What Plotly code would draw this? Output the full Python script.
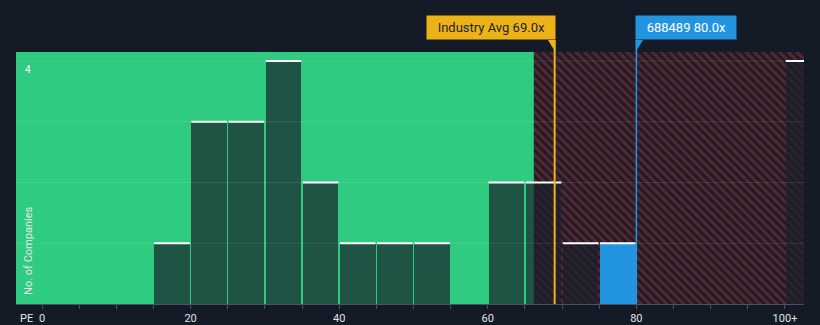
import plotly.graph_objects as go

# ---- data ----
bin_starts = [15, 20, 25, 30, 35, 40, 45, 50, 60, 65, 70, 75, 100]
counts = [1, 3, 3, 4, 2, 1, 1, 1, 2, 2, 1, 1, 4]
highlight_bin = 75          # bin containing the company
BIN_WIDTH = 5
industry_avg = 69.0
company_pe = 80.0
company_code = "688489"
x_tickvals = [0, 20, 40, 60, 80, 100]
x_ticktext = ["0", "20", "40", "60", "80", "100+"]
grid_levels = [1, 2, 3, 4]

# ---- styling / layout constants ----
X_MIN, X_MAX = -3.5, 102.56
Y_MAX = 4.148
RED_ZONE_START = 66.2
BG = "#151b26"
GREEN = "#2ecb80"
YELLOW = "#ebb317"
BLUE = "#2394df"
BOX_Y = 1.048
PAD = "\u2002"

fig = go.Figure()

# hatched red zone (background)
fig.add_trace(go.Bar(
    x=[(RED_ZONE_START + X_MAX) / 2], y=[Y_MAX], width=[X_MAX - RED_ZONE_START], base=0,
    marker=dict(color="#1a1c27", line=dict(width=0),
                pattern=dict(shape="\\", fgcolor="#93313a", bgcolor="#1a1c27", size=6, solidity=0.5)),
    hoverinfo="skip", showlegend=False))

centers = [s + BIN_WIDTH / 2 for s in bin_starts]
colors = [BLUE if s == highlight_bin else "rgba(26,31,43,0.70)" for s in bin_starts]
fig.add_trace(go.Bar(
    x=centers, y=counts, width=[BIN_WIDTH - 0.2] * len(counts),
    marker=dict(color=colors, line=dict(width=0)), showlegend=False))

# gridlines on top (faint)
gx, gy = [], []
for g in grid_levels:
    gx += [X_MIN, X_MAX, None]
    gy += [g, g, None]
fig.add_trace(go.Scatter(x=gx, y=gy, mode="lines",
                         line=dict(color="rgba(255,255,255,0.10)", width=1),
                         hoverinfo="skip", showlegend=False))

# white top caps on bars
tx, ty = [], []
for c, v in zip(centers, counts):
    tx += [c - (BIN_WIDTH - 0.2) / 2, c + (BIN_WIDTH - 0.2) / 2, None]
    ty += [v, v, None]
fig.add_trace(go.Scatter(x=tx, y=ty, mode="lines",
                         line=dict(color="white", width=2),
                         hoverinfo="skip", showlegend=False))

shapes = [
    dict(type="rect", xref="x", yref="paper", x0=X_MIN, x1=RED_ZONE_START, y0=0, y1=1,
         fillcolor=GREEN, line=dict(width=0), layer="below"),
    dict(type="line", xref="x", yref="paper", x0=industry_avg, x1=industry_avg, y0=0, y1=BOX_Y,
         line=dict(color=YELLOW, width=2), layer="above"),
    dict(type="line", xref="x", yref="paper", x0=company_pe, x1=company_pe, y0=0, y1=BOX_Y,
         line=dict(color=BLUE, width=1.5), layer="above"),
    dict(type="path", xref="x", yref="paper",
         path=f"M {industry_avg - 0.9},{BOX_Y} L {industry_avg + 0.1},{BOX_Y} L {industry_avg + 0.1},{1.0} Z",
         fillcolor=YELLOW, line=dict(width=0), layer="above"),
    dict(type="path", xref="x", yref="paper",
         path=f"M {company_pe - 0.1},{BOX_Y} L {company_pe + 0.9},{BOX_Y} L {company_pe - 0.1},{1.0} Z",
         fillcolor=BLUE, line=dict(width=0), layer="above"),
]

annotations = [
    dict(text=f"{PAD}Industry Avg {industry_avg:.1f}x{PAD}", xref="x", yref="paper", x=industry_avg, y=BOX_Y,
         xanchor="right", yanchor="bottom", xshift=1, showarrow=False,
         bgcolor=YELLOW, borderpad=4, font=dict(family="Roboto", size=13, color="#1b1f2a")),
    dict(text=f"{PAD}{company_code} {company_pe:.1f}x{PAD}", xref="x", yref="paper", x=company_pe, y=BOX_Y,
         xanchor="left", yanchor="bottom", xshift=-1, showarrow=False,
         bgcolor=BLUE, borderpad=4, font=dict(family="Roboto", size=13, color="white")),
    dict(text="PE", xref="paper", yref="paper", x=0.002, y=0, xanchor="left", yanchor="top",
         yshift=-6, showarrow=False, font=dict(family="Roboto", size=11, color="#e6e6e6")),
    dict(text="4", xref="paper", yref="y", x=0.015, y=4, xanchor="center", yanchor="top",
         yshift=-1, showarrow=False, font=dict(family="Roboto", size=10, color="white")),
    dict(text="No. of Companies", xref="paper", yref="paper", x=0.015, y=0.21, textangle=-90,
         xanchor="center", yanchor="middle", showarrow=False,
         font=dict(family="Roboto", size=11, color="#e6e6e6")),
]

fig.update_layout(
    width=820, height=325,
    margin=dict(l=16, r=16, t=52, b=21, autoexpand=False),
    paper_bgcolor=BG, plot_bgcolor=BG,
    barmode="overlay", bargap=0,
    shapes=shapes, annotations=annotations,
    xaxis=dict(range=[X_MIN, X_MAX], tickvals=x_tickvals, ticktext=x_ticktext, automargin=False,
               showgrid=False, zeroline=False, showline=True, linecolor="#4b505b", linewidth=1,
               ticks="outside", ticklen=4, tickcolor="#4b505b",
               minor=dict(dtick=5, tick0=0, ticks="outside", ticklen=4, tickcolor="#4b505b", showgrid=False),
               tickfont=dict(family="Roboto", size=11, color="#e0e0e0"), fixedrange=True),
    yaxis=dict(range=[0, Y_MAX], showgrid=False, zeroline=False, showticklabels=False,
               automargin=False, fixedrange=True),
)

fig.write_html("out.html")
